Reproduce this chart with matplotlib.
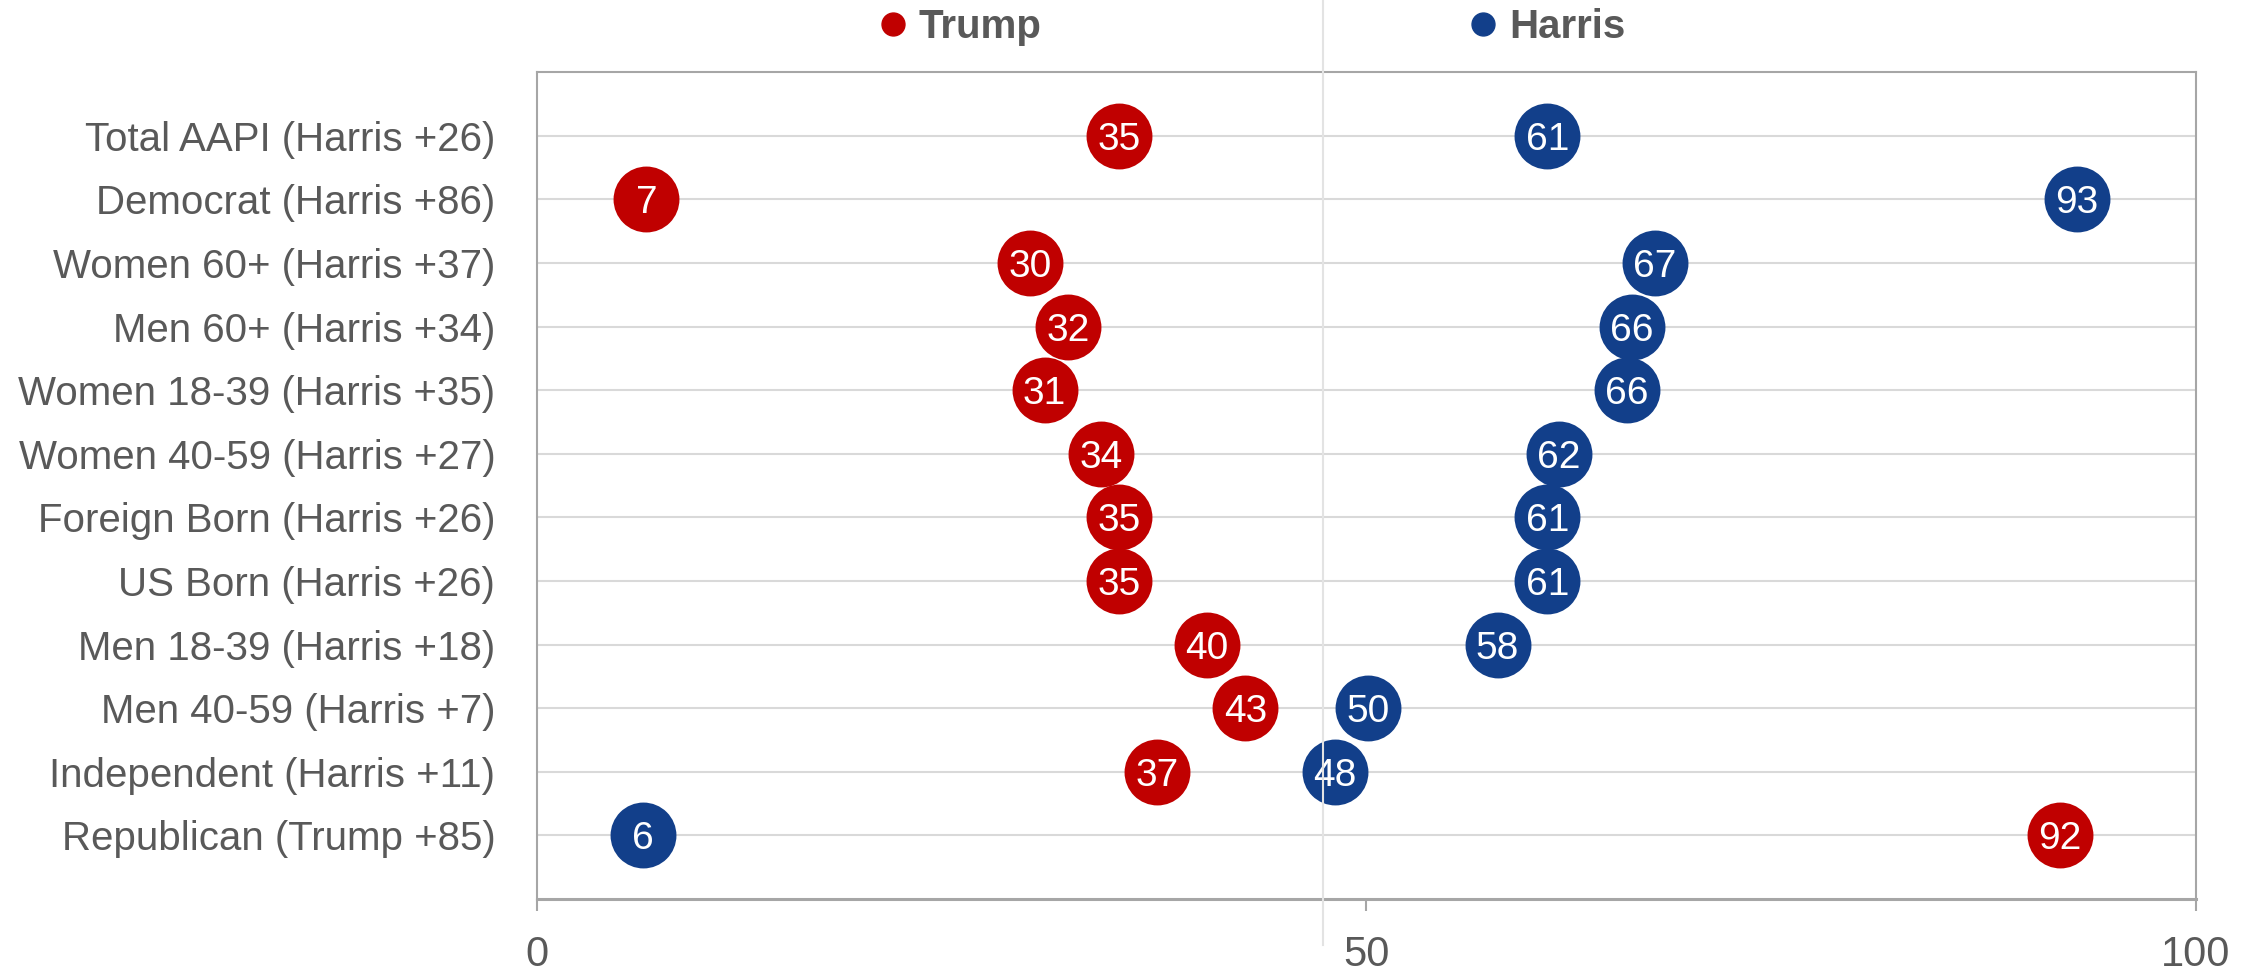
import numpy as np
import matplotlib
matplotlib.use("Agg")
import matplotlib.pyplot as plt
from matplotlib.lines import Line2D

# survey groups, top to bottom
groups = [
    "Total AAPI (Harris +26)",
    "Democrat (Harris +86)",
    "Women 60+ (Harris +37)",
    "Men 60+ (Harris +34)",
    "Women 18-39 (Harris +35)",
    "Women 40-59 (Harris +27)",
    "Foreign Born (Harris +26)",
    "US Born (Harris +26)",
    "Men 18-39 (Harris +18)",
    "Men 40-59 (Harris +7)",
    "Independent (Harris +11)",
    "Republican (Trump +85)",
]

# vote share (%)
trump = [35.1, 6.6, 29.7, 32.0, 30.6, 34.0, 35.1, 35.1, 40.4, 42.7, 37.4, 91.8]
harris = [60.9, 92.8, 67.4, 66.0, 65.7, 61.6, 60.9, 60.9, 57.9, 50.1, 48.1, 6.4]

x_ticks = [0, 50, 100]
ref_line = 47.4

RED = "#C00000"
BLUE = "#123F8A"
GREY_TXT = "#595959"
GREY_AX = "#A6A6A6"
GREY_GRID = "#D9D9D9"

plt.rcParams["font.family"] = ["Liberation Sans", "DejaVu Sans"]

fig = plt.figure(figsize=(22.62, 9.71), dpi=100)
ax = fig.add_axes([0.2374, 0.0741, 0.9708 - 0.2374, 0.9258 - 0.0741])

ypos = np.arange(len(groups), 0, -1)

for y in ypos:
    ax.axhline(y, color=GREY_GRID, lw=1.5, zorder=1)

ax.scatter(trump, ypos, s=2250, color=RED, zorder=3, linewidths=0)
ax.scatter(harris, ypos, s=2250, color=BLUE, zorder=3, linewidths=0)

for xs in (trump, harris):
    for v, y in zip(xs, ypos):
        ax.text(v, y, f"{int(np.floor(v + 0.5))}", color="white", fontsize=28,
                ha="center", va="center_baseline", zorder=4)

ax.axvline(ref_line, ymin=-0.056, ymax=1.1, color="#E3E3E3", lw=1.5,
           clip_on=False, zorder=5)

ax.set_xlim(0, 100)
ax.set_ylim(0, len(groups) + 1)
ax.set_xticks(x_ticks)
ax.set_yticks(ypos)
ax.set_yticklabels(groups)
ax.tick_params(axis="y", length=0, pad=30, labelsize=29, labelcolor=GREY_TXT)
ax.tick_params(axis="x", length=8.6, width=1.5, color=GREY_AX, pad=17,
               labelsize=30, labelcolor=GREY_TXT)

for side in ("left", "right", "top"):
    ax.spines[side].set_color(GREY_AX)
    ax.spines[side].set_linewidth(1.5)
ax.spines["bottom"].set_color(GREY_AX)
ax.spines["bottom"].set_linewidth(2.2)

handles = [
    Line2D([], [], marker="o", ls="", color=RED, markersize=16.5, label="Trump"),
    Line2D([], [], marker="o", ls="", color=BLUE, markersize=16.5, label="Harris"),
]
fig.legend(handles=handles, ncol=2, loc="center", bbox_to_anchor=(0.5535, 0.972),
           frameon=False, handlelength=0.7, handletextpad=0.3, columnspacing=10.6,
           borderpad=0, prop={"weight": "bold", "size": 29}, labelcolor=GREY_TXT)

fig.savefig("out.png", dpi=100)
